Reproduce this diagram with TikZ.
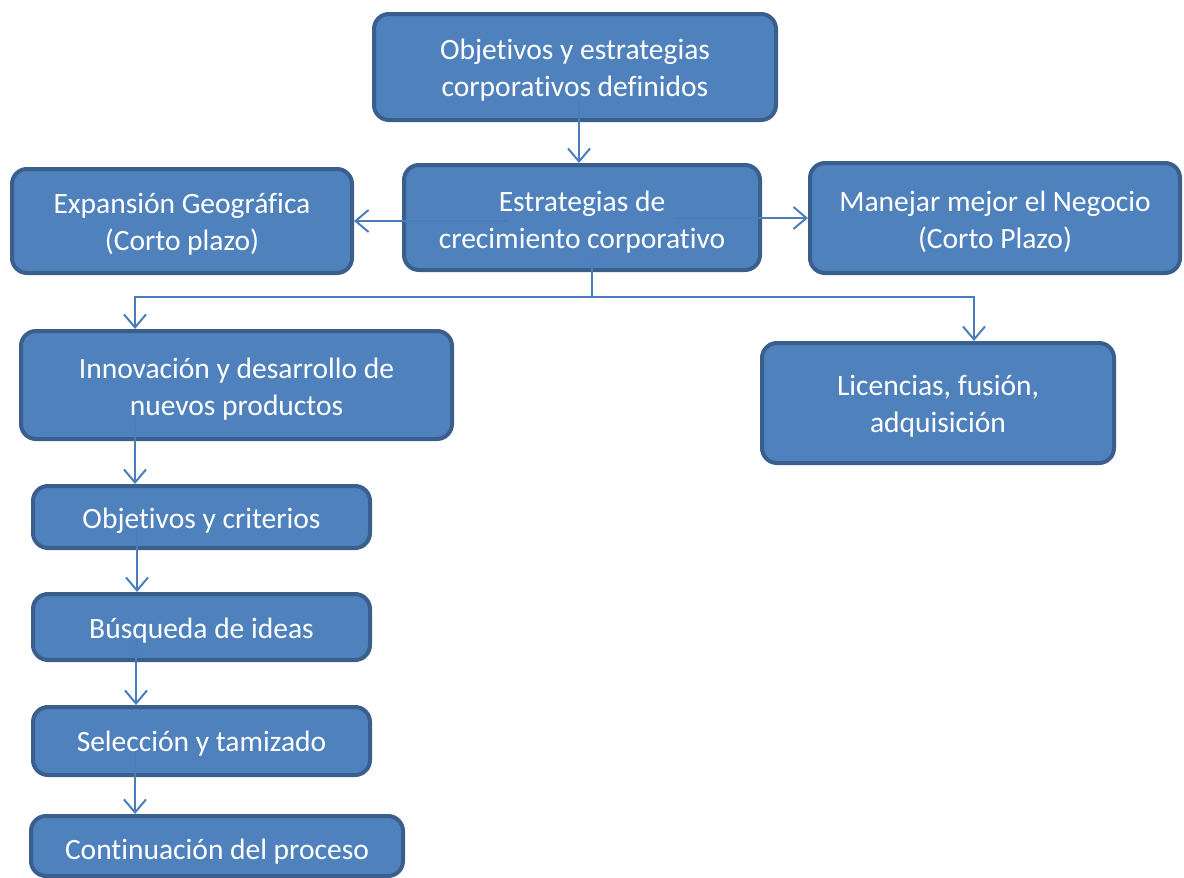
\documentclass[tikz,border=0pt]{standalone}
\usepackage{fontspec}
\setmainfont{Carlito}[Ligatures=NoCommon]
\usetikzlibrary{arrows.meta,calc}
\definecolor{boxfill}{HTML}{4F81BD}
\definecolor{boxborder}{HTML}{3A5F8C}
\definecolor{linec}{HTML}{4A7EBB}
\tikzset{
  box/.style={draw=boxborder, fill=boxfill, line width=4pt, rounded corners=15pt, inner sep=0pt},
  txt/.style={text=white, align=center, inner sep=0pt, yshift=-4pt, font=\fontsize{29.5}{37}\selectfont},
  conn/.style={draw=linec, line width=2pt, -{Straight Barb[length=13pt,width=22pt]}},
  plain/.style={draw=linec, line width=2pt}
}
\begin{document}
\begin{tikzpicture}[x=1pt,y=-1pt]
\useasboundingbox (0,0) rectangle (1184,878);
\node[box, minimum width=402pt, minimum height=106pt, label={[txt,yshift=1pt]center:{Objetivos y estrategias\\corporativos definidos}}] (top) at (575,67) {};
\node[box, minimum width=356pt, minimum height=105pt, label={[txt,yshift=-1pt]center:{Estrategias de\\crecimiento corporativo}}] (estr) at (582,217.5) {};
\node[box, minimum width=340pt, minimum height=104pt, label={[txt,yshift=1pt]center:{Expansión Geográfica\\(Corto plazo)}}] (exp) at (182,221) {};
\node[box, minimum width=370pt, minimum height=110pt, label={[txt]center:{Manejar mejor el Negocio\\(Corto Plazo)}}] (man) at (995,218) {};
\node[box, minimum width=431pt, minimum height=108pt, label={[txt]center:{Innovación y desarrollo de\\nuevos productos}}] (inn) at (236.5,385) {};
\node[box, minimum width=352pt, minimum height=120pt, label={[txt,yshift=1pt]center:{Licencias, fusión,\\adquisición}}] (lic) at (938,403) {};
\node[box, minimum width=337pt, minimum height=62pt, label={[txt]center:{Objetivos y criterios}}] (obj) at (201.5,517) {};
\node[box, minimum width=337pt, minimum height=66pt, label={[txt]center:{Búsqueda de ideas}}] (bus) at (201.5,627) {};
\node[box, minimum width=337pt, minimum height=68pt, label={[txt,yshift=1pt]center:{Selección y tamizado}}] (sel) at (201.5,741) {};
\node[box, minimum width=372pt, minimum height=60pt, label={[txt,yshift=-2pt]center:{Continuación del proceso}}] (cont) at (217,846) {};

\draw[conn] ([xshift=4pt,yshift=22pt]top.south) coordinate (s0) -- (s0 |- estr.north);
\draw[conn] ([xshift=-73pt]estr.center |- exp.east) -- (exp.east);
\draw[conn] ([xshift=92pt]estr.center |- man.west) -- (man.west);
\coordinate (j) at (592,297);
\draw[plain] ([xshift=10pt,yshift=15pt]estr.south) -- (j);
\draw[conn] (j) -| ([xshift=-101.5pt]inn.north);
\draw[conn] (j) -| ([xshift=36pt]lic.north);
\draw[conn] ([xshift=-101.5pt,yshift=24pt]inn.south) coordinate (s1) -- (s1 |- obj.north);
\draw[conn] ([xshift=-64.5pt,yshift=22pt]obj.south) coordinate (s2) -- (s2 |- bus.north);
\draw[conn] ([xshift=-65.5pt,yshift=22pt]bus.south) coordinate (s3) -- (s3 |- sel.north);
\draw[conn] ([xshift=-66.5pt,yshift=26pt]sel.south) coordinate (s4) -- (s4 |- cont.north);
\end{tikzpicture}
\end{document}
